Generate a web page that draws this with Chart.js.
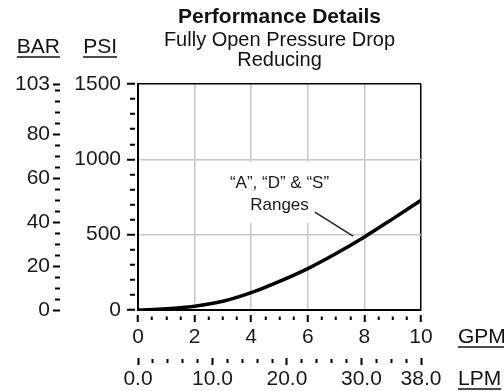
<!DOCTYPE html>
<html>
<head>
<meta charset="utf-8">
<script src="https://cdn.jsdelivr.net/npm/chart.js@4.4.1/dist/chart.umd.min.js"></script>
<style>
  html, body { margin: 0; padding: 0; background: #fff; }
  canvas { display: block; }
</style>
</head>
<body>
<canvas id="chart" width="504" height="391"></canvas>
<script>
// flow (GPM) vs fully open pressure drop (PSI)
const gpm = [0, 1, 2, 3, 4, 5, 6, 7, 8, 9, 10];
const psiDrop = [0, 8, 25, 58, 115, 190, 275, 375, 485, 605, 728];

// axis ticks: every value gets a tick mark, the "labels" lists get text
const gpmTicks = [0, 0.5, 1, 1.5, 2, 2.5, 3, 3.5, 4, 4.5, 5, 5.5, 6, 6.5, 7, 7.5, 8, 8.5, 9, 9.5, 10];
const gpmLabels = [0, 2, 4, 6, 8, 10];
const lpmTicks = [0, 2, 4, 6, 8, 10, 12, 14, 16, 18, 20, 22, 24, 26, 28, 30, 32, 34, 36, 38];
const lpmLabels = [0, 10, 20, 30, 38];
const psiTicks = [0, 100, 200, 300, 400, 500, 600, 700, 800, 900, 1000, 1100, 1200, 1300, 1400, 1500];
const psiLabels = [0, 500, 1000, 1500];
const barTicks = [0, 5, 10, 15, 20, 25, 30, 35, 40, 45, 50, 55, 60, 65, 70, 75, 80, 85, 90, 95, 100, 103];
const barLabels = [0, 20, 40, 60, 80, 103];

// callout text and where it sits, in data units
const noteText = ['\u201CA\u201D, \u201CD\u201D & \u201CS\u201D', 'Ranges'];
const noteAt = { gpm: 5.0, psi: [843, 697] };
const noteBox = { gpm: [2.95, 7.05], psi: [985, 577] };
const leader = { gpm: [6.25, 7.6], psi: [650, 491] };

const FONT = "'Liberation Sans', Arial, Helvetica, sans-serif";
Chart.defaults.font.family = FONT;
Chart.defaults.color = '#1a1a1a';

const GRID = '#c8c8c8';
const NONE = 'rgba(0,0,0,0)';

const setTicks = (values) => (scale) => {
  scale.ticks = values.map((value) => ({ value }));
};

const rangeNote = {
  id: 'rangeNote',
  beforeDatasetsDraw(chart) {
    const { ctx, scales: { x, y } } = chart;
    ctx.save();
    const l = x.getPixelForValue(noteBox.gpm[0]);
    const r = x.getPixelForValue(noteBox.gpm[1]);
    const t = y.getPixelForValue(noteBox.psi[0]);
    const b = y.getPixelForValue(noteBox.psi[1]);
    ctx.fillStyle = '#fff';
    ctx.fillRect(l, t, r - l, b - t);

    ctx.fillStyle = '#1a1a1a';
    ctx.font = `17px ${FONT}`;
    ctx.textAlign = 'center';
    ctx.textBaseline = 'middle';
    noteText.forEach((line, i) => {
      ctx.fillText(line, x.getPixelForValue(noteAt.gpm), y.getPixelForValue(noteAt.psi[i]));
    });

    ctx.strokeStyle = '#222';
    ctx.lineWidth = 1.5;
    ctx.beginPath();
    ctx.moveTo(x.getPixelForValue(leader.gpm[0]), y.getPixelForValue(leader.psi[0]));
    ctx.lineTo(x.getPixelForValue(leader.gpm[1]), y.getPixelForValue(leader.psi[1]));
    ctx.stroke();
    ctx.restore();
  },
};

const unitLabels = {
  id: 'unitLabels',
  afterDraw(chart) {
    const { ctx, chartArea, scales } = chart;
    ctx.save();
    ctx.fillStyle = '#111';
    ctx.strokeStyle = '#111';
    ctx.lineWidth = 1.5;
    ctx.font = `21px ${FONT}`;
    ctx.textBaseline = 'alphabetic';
    const put = (text, x, y, align) => {
      ctx.textAlign = align;
      ctx.fillText(text, x, y);
      const w = ctx.measureText(text).width;
      const x0 = align === 'right' ? x - w : x;
      ctx.beginPath();
      ctx.moveTo(x0, y + 4);
      ctx.lineTo(x0 + w, y + 4);
      ctx.stroke();
    };
    put('BAR', scales.y2.right - 13, chartArea.top - 31, 'right');
    put('PSI', scales.y.right - 21, chartArea.top - 31, 'right');
    put('GPM', chartArea.right + 37, scales.x.top + 33, 'left');
    put('LPM', chartArea.right + 37, scales.x2.top + 29, 'left');
    ctx.restore();
  },
};

new Chart(document.getElementById('chart'), {
  type: 'line',
  data: {
    datasets: [
      {
        data: gpm.map((g, i) => ({ x: g, y: psiDrop[i] })),
        borderColor: '#000',
        borderWidth: 3.5,
        pointRadius: 0,
        cubicInterpolationMode: 'monotone',
        xAxisID: 'x',
        yAxisID: 'y',
      },
    ],
  },
  options: {
    responsive: false,
    animation: false,
    layout: { padding: { left: 0, right: 83, top: 0, bottom: 0 } },
    plugins: {
      legend: { display: false },
      tooltip: { enabled: false },
      title: {
        display: true,
        text: 'Performance Details',
        fullSize: false,
        color: '#111',
        font: { size: 21, weight: 'bold' },
        padding: { top: 4.9, bottom: 0 },
      },
      subtitle: {
        display: true,
        text: ['Fully Open Pressure Drop', 'Reducing'],
        fullSize: false,
        color: '#111',
        font: { size: 20, lineHeight: 1.0 },
        padding: { top: 0, bottom: 13.9 },
      },
    },
    scales: {
      x: {
        type: 'linear',
        position: 'bottom',
        weight: 0,
        min: 0,
        max: 10,
        afterBuildTicks: setTicks(gpmTicks),
        afterFit: (s) => { s.height = 46; },
        ticks: {
          autoSkip: false,
          maxRotation: 0,
          padding: 3,
          font: { size: 21 },
          callback: (v) => (gpmLabels.includes(v) ? String(v) : ''),
        },
        grid: {
          color: (c) => {
            const v = c.tick && c.tick.value;
            if (v === 10) return '#000';
            return v > 0 && gpmLabels.includes(v) ? GRID : NONE;
          },
          lineWidth: 1.5,
          tickLength: 12,
          tickColor: '#000',
          tickWidth: 2,
          tickBorderDash: (c) =>
            gpmLabels.includes(c.tick && c.tick.value) ? [0, 4, 7, 100] : [0, 5.5, 3.5, 100],
        },
        border: { display: true, color: '#000', width: 2 },
      },
      x2: {
        type: 'linear',
        position: 'bottom',
        weight: 1,
        min: 0,
        max: 38,
        afterBuildTicks: setTicks(lpmTicks),
        afterFit: (s) => { s.height = 35; },
        ticks: {
          autoSkip: false,
          maxRotation: 0,
          padding: 2,
          font: { size: 21 },
          callback: (v) => (lpmLabels.includes(v) ? v.toFixed(1) : ''),
        },
        grid: {
          drawOnChartArea: false,
          color: '#000',
          tickLength: 9,
          tickColor: '#000',
          tickWidth: 2,
          tickBorderDash: (c) =>
            lpmLabels.includes(c.tick && c.tick.value) ? [0, 2, 7, 100] : [0, 3, 4, 100],
        },
        border: { display: false },
      },
      y: {
        type: 'linear',
        position: 'left',
        weight: 0,
        min: 0,
        max: 1500,
        afterBuildTicks: setTicks(psiTicks),
        afterFit: (s) => { s.width = 65; },
        ticks: {
          autoSkip: false,
          padding: 5,
          font: { size: 21 },
          callback: (v) => (psiLabels.includes(v) ? String(v) : ''),
        },
        grid: {
          color: (c) => {
            const v = c.tick && c.tick.value;
            if (v === 1500) return '#000';
            return v > 0 && psiLabels.includes(v) ? GRID : NONE;
          },
          lineWidth: 1.5,
          tickLength: 12,
          tickColor: '#000',
          tickWidth: 2,
          tickBorderDash: (c) =>
            psiLabels.includes(c.tick && c.tick.value) ? [0, 1, 8, 100] : [0, 4, 5, 100],
        },
        border: { display: true, color: '#000', width: 2 },
      },
      y2: {
        type: 'linear',
        position: 'left',
        weight: 1,
        min: 0,
        max: 103,
        afterBuildTicks: setTicks(barTicks),
        afterFit: (s) => { s.width = 73; },
        ticks: {
          autoSkip: false,
          padding: 3,
          font: { size: 21 },
          callback: (v) => (barLabels.includes(v) ? String(v) : ''),
        },
        grid: {
          drawOnChartArea: false,
          color: '#000',
          tickLength: 20,
          tickColor: '#000',
          tickWidth: 2,
          tickBorderDash: (c) =>
            barLabels.includes(c.tick && c.tick.value) ? [7, 100] : [0, 2, 5, 100],
        },
        border: { display: false },
      },
    },
  },
  plugins: [rangeNote, unitLabels],
});
</script>
</body>
</html>
